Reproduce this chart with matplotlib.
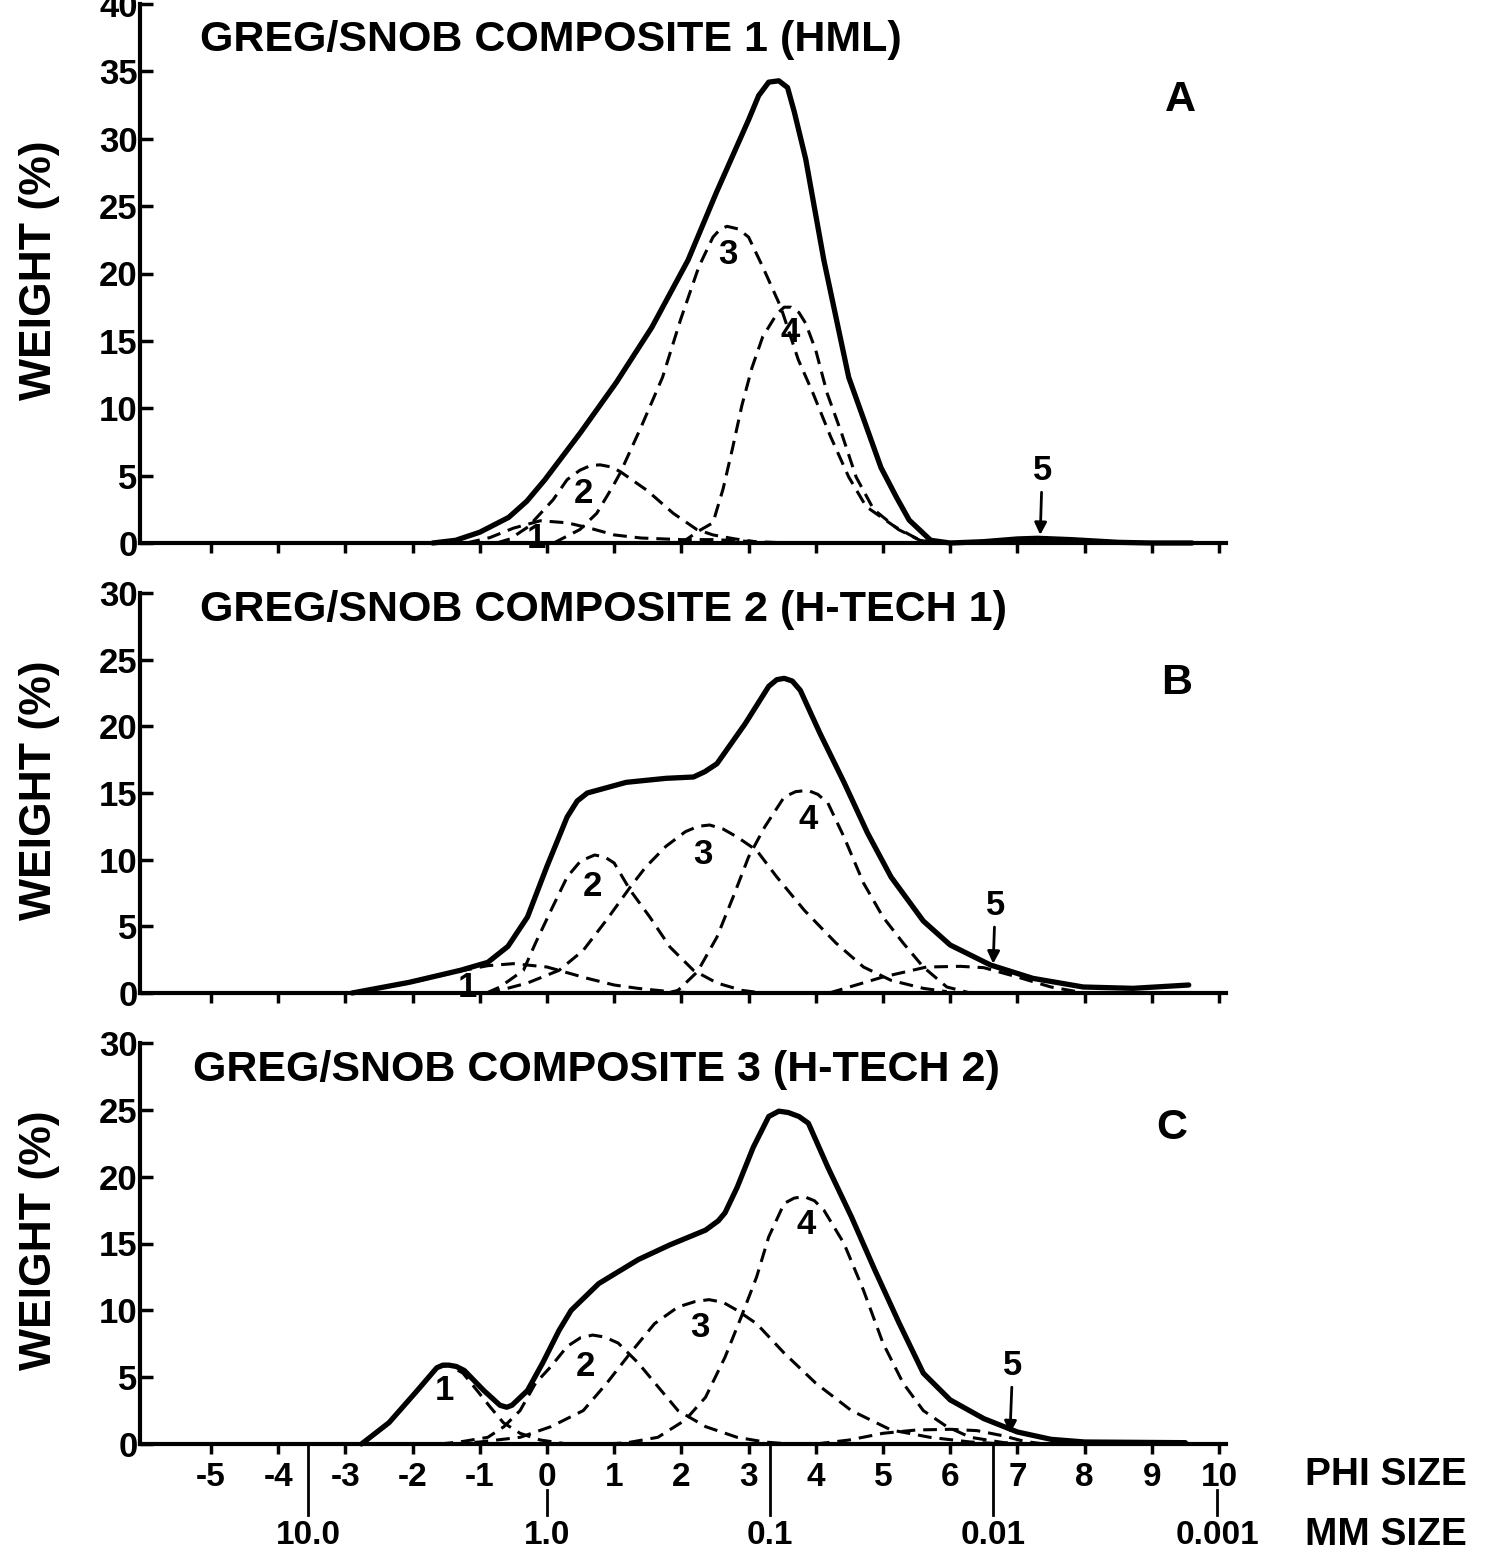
import matplotlib.pyplot as plt
from matplotlib import transforms

plt.rcParams['font.family'] = ['Liberation Sans', 'DejaVu Sans']
plt.rcParams['font.weight'] = 'bold'

# ---- panel A : composite 1 (HML) ----
a_tot_x = [-1.7, -1.36, -1.0, -0.57, -0.3, -0.03, 0.5, 1.03, 1.56, 2.1, 2.52, 3.0, 3.15, 3.3, 3.45,
           3.58, 3.68, 3.85, 4.12, 4.49, 4.97, 5.2, 5.39, 5.71, 6.0, 6.5, 7.0, 7.3, 7.8, 8.5, 9.0, 9.6]
a_tot_y = [0, 0.2, 0.8, 1.9, 3.1, 4.7, 8.2, 11.9, 16.0, 21.0, 26.0, 31.4, 33.2, 34.2, 34.3,
           33.8, 32.0, 28.5, 21.0, 12.3, 5.6, 3.4, 1.7, 0.2, 0, 0.1, 0.3, 0.35, 0.25, 0.05, 0, 0]
a_c1_x = [-1.2, -0.85, -0.5, -0.1, 0.3, 0.64, 1.0, 1.4, 2.0, 2.5, 3.0, 3.6]
a_c1_y = [0, 0.4, 1.1, 1.65, 1.5, 1.1, 0.6, 0.37, 0.25, 0.25, 0.12, 0]
a_c2_x = [-0.75, -0.55, -0.28, 0.09, 0.3, 0.49, 0.65, 0.79, 0.95, 1.09, 1.49, 1.88, 2.23, 2.47, 2.8, 3.1]
a_c2_y = [0, 0.3, 1.2, 3.2, 4.7, 5.4, 5.75, 5.8, 5.65, 5.3, 3.9, 2.2, 1.0, 0.6, 0.3, 0.1]
a_c3_x = [0.1, 0.49, 0.74, 0.98, 1.09, 1.4, 1.72, 1.99, 2.26, 2.47, 2.58, 2.68, 2.85, 3.0, 3.21, 3.48,
          3.74, 3.96, 4.22, 4.49, 4.75, 5.18, 5.55, 5.9]
a_c3_y = [0, 1.0, 2.2, 4.2, 5.2, 8.6, 12.3, 16.6, 20.5, 22.7, 23.3, 23.5, 23.3, 22.7, 20.5, 17.5,
          13.6, 11.1, 7.9, 4.9, 2.7, 1.2, 0.2, 0]
a_c4_x = [2.0, 2.26, 2.47, 2.62, 2.76, 2.9, 3.05, 3.21, 3.42, 3.53, 3.63, 3.75, 3.85, 4.0, 4.17,
          4.38, 4.6, 4.86, 5.23, 5.55, 5.8]
a_c4_y = [0, 0.9, 1.5, 4.0, 7.0, 10.2, 13.0, 15.3, 17.0, 17.5, 17.5, 17.1, 16.3, 14.3, 11.1,
          8.2, 4.9, 2.5, 1.0, 0.2, 0]

# ---- panel B : composite 2 (H-TECH 1) ----
b_tot_x = [-2.9, -2.05, -1.29, -0.88, -0.58, -0.29, 0.0, 0.3, 0.45, 0.6, 1.18, 1.77, 2.18, 2.35,
           2.53, 2.95, 3.3, 3.42, 3.53, 3.65, 3.77, 4.06, 4.42, 4.77, 5.12, 5.6, 6.0, 6.6, 7.23,
           7.98, 8.72, 9.55]
b_tot_y = [0, 0.8, 1.7, 2.3, 3.5, 5.7, 9.5, 13.2, 14.4, 15.0, 15.8, 16.1, 16.2, 16.6,
           17.2, 20.2, 23.0, 23.5, 23.6, 23.4, 22.7, 19.5, 15.8, 12.0, 8.7, 5.4, 3.6, 2.1, 1.1,
           0.45, 0.35, 0.6]
b_c1_x = [-2.9, -2.05, -1.29, -0.88, -0.5, 0.0, 0.6, 1.0, 1.35, 1.83, 2.2]
b_c1_y = [0, 0.75, 1.65, 2.05, 2.2, 1.95, 1.1, 0.6, 0.35, 0.1, 0]
b_c2_x = [-0.9, -0.7, -0.35, -0.17, 0.06, 0.3, 0.5, 0.71, 0.86, 1.0, 1.24, 1.53, 1.83, 2.18,
          2.53, 2.9, 3.2]
b_c2_y = [0, 0.45, 1.7, 3.75, 6.2, 8.7, 9.9, 10.35, 10.2, 9.75, 7.7, 5.7, 3.45, 1.7,
          0.75, 0.2, 0]
b_c3_x = [-0.9, -0.7, -0.29, 0.18, 0.54, 0.89, 1.24, 1.47, 1.77, 2.06, 2.25, 2.42, 2.62, 2.83,
          3.12, 3.42, 3.83, 4.3, 4.71, 5.12, 5.6, 5.95]
b_c3_y = [0, 0.2, 0.75, 1.7, 3.2, 5.5, 7.95, 9.45, 11.0, 12.1, 12.5, 12.6, 12.3, 11.7,
          10.7, 8.7, 6.2, 3.75, 1.95, 0.95, 0.35, 0.1]
b_c4_x = [1.8, 1.95, 2.24, 2.53, 2.77, 3.0, 3.24, 3.53, 3.7, 3.88, 4.03, 4.18, 4.42, 4.71, 5.0,
          5.3, 5.6, 5.95, 6.3]
b_c4_y = [0, 0.2, 1.6, 4.2, 7.2, 10.2, 12.45, 14.7, 15.1, 15.2, 14.9, 14.25, 11.7, 8.25, 5.7,
          3.75, 1.95, 0.45, 0]
b_c5_x = [4.2, 4.5, 5.0, 5.65, 6.15, 6.5, 7.0, 7.5, 8.0]
b_c5_y = [0, 0.45, 1.2, 1.95, 2.0, 1.9, 1.2, 0.45, 0]

# ---- panel C : composite 3 (H-TECH 2) ----
c_tot_x = [-2.76, -2.35, -1.93, -1.64, -1.55, -1.46, -1.35, -1.23, -0.94, -0.7, -0.6, -0.52, -0.29,
           -0.06, 0.18, 0.36, 0.77, 1.36, 1.83, 2.36, 2.55, 2.65, 2.83, 3.07, 3.3, 3.45, 3.59, 3.75,
           3.89, 4.18, 4.53, 4.88, 5.24, 5.6, 6.0, 6.5, 7.0, 7.5, 8.0, 9.5]
c_tot_y = [0, 1.6, 4.0, 5.7, 5.9, 5.9, 5.8, 5.5, 4.0, 2.9, 2.75, 2.9, 4.0,
           6.1, 8.5, 10.0, 12.0, 13.8, 14.9, 16.0, 16.7, 17.3, 19.2, 22.2, 24.5, 24.9, 24.8, 24.5,
           24.0, 20.7, 17.0, 13.0, 9.05, 5.3, 3.3, 1.9, 0.9, 0.35, 0.15, 0.1]
c_c1_x = [-2.76, -2.35, -1.93, -1.64, -1.46, -1.25, -1.04, -0.85, -0.65, -0.4, -0.1, 0.3]
c_c1_y = [0, 1.6, 4.0, 5.7, 5.9, 5.3, 4.0, 2.8, 1.6, 0.8, 0.3, 0]
c_c2_x = [-1.6, -1.3, -0.88, -0.64, -0.4, -0.17, 0.06, 0.3, 0.5, 0.68, 0.86, 1.06, 1.36, 1.65,
          1.95, 2.36, 2.83, 3.24, 3.6]
c_c2_y = [0, 0.15, 0.5, 1.3, 2.5, 4.55, 5.8, 7.3, 7.95, 8.15, 8.0, 7.55, 6.05, 4.3,
          2.5, 1.3, 0.5, 0.15, 0]
c_c3_x = [-1.4, -1.0, -0.4, 0.06, 0.54, 0.89, 1.24, 1.6, 1.95, 2.2, 2.41, 2.62, 2.83, 3.12, 3.53,
          4.0, 4.53, 5.12, 5.7, 6.3, 6.8]
c_c3_y = [0, 0.15, 0.5, 1.3, 2.5, 4.55, 6.8, 9.0, 10.25, 10.65, 10.8, 10.6, 10.0, 9.0, 6.8,
          4.55, 2.5, 1.05, 0.5, 0.15, 0]
c_c4_x = [0.9, 1.2, 1.65, 2.06, 2.36, 2.65, 2.89, 3.12, 3.3, 3.53, 3.68, 3.83, 3.98, 4.12, 4.42,
          4.71, 5.0, 5.3, 5.6, 5.95, 6.3, 6.8, 7.2]
c_c4_y = [0, 0.1, 0.5, 1.8, 3.5, 6.5, 9.5, 12.5, 15.5, 18.0, 18.4, 18.5, 18.2, 17.5, 15.0,
          11.5, 7.55, 4.55, 2.5, 1.3, 0.5, 0.1, 0]
c_c5_x = [4.0, 4.5, 5.0, 5.5, 6.0, 6.4, 6.8, 7.1, 7.4]
c_c5_y = [0, 0.3, 0.8, 1.05, 1.1, 1.0, 0.6, 0.2, 0]

# axis labels
phi_ticks = list(range(-5, 11))
mm_labels = ['10.0', '1.0', '0.1', '0.01', '0.001']
mm_phi = [-3.55, 0.0, 3.32, 6.64, 9.97]

W, H = 1492, 1559
fig = plt.figure(figsize=(W / 100, H / 100), dpi=100)

X0, X1 = -6.05, 10.1
left = 140.4 / W
width = (1225.7 - 140.4) / W


def make_axes(top_px, bottom_px, ymax):
    ax = fig.add_axes([left, 1 - bottom_px / H, width, (bottom_px - top_px) / H])
    ax.set_xlim(X0, X1)
    ax.set_ylim(0, ymax)
    ax.spines['right'].set_visible(False)
    ax.spines['top'].set_visible(False)
    for s in ('left', 'bottom'):
        ax.spines[s].set_linewidth(3)
    ax.set_xticks(phi_ticks)
    ax.set_yticks(range(0, ymax + 1, 5))
    ax.tick_params(axis='x', direction='out', length=7, width=2.5, labelbottom=False)
    ax.tick_params(axis='y', direction='in', length=9, width=2.5, pad=2, labelsize=25)
    ax.patch.set_alpha(0)
    return ax


def draw(ax, tot, comps):
    dash = (0, (4.5, 2.6))
    for cx, cy in comps:
        ax.plot(cx, cy, color='black', lw=2.2, linestyle=dash, clip_on=False)
    ax.plot(tot[0], tot[1], color='black', lw=3.8, solid_joinstyle='round',
            solid_capstyle='round', clip_on=False)


def label(ax, items):
    for t, x, y in items:
        ax.text(x, y, t, ha='center', va='center', fontsize=25, fontweight='bold')


def arrow5(ax, tip, txt):
    ax.annotate('5', xy=tip, xytext=txt, ha='center', va='center',
                fontsize=25, fontweight='bold',
                arrowprops=dict(arrowstyle='-|>', lw=2, color='black', mutation_scale=18,
                                shrinkA=2, shrinkB=0))


ax_a = make_axes(4, 543, 40)
draw(ax_a, (a_tot_x, a_tot_y),
     [(a_c1_x, a_c1_y), (a_c2_x, a_c2_y), (a_c3_x, a_c3_y), (a_c4_x, a_c4_y)])
label(ax_a, [('1', -0.15, 0.3), ('2', 0.54, 3.7), ('3', 2.69, 21.4), ('4', 3.62, 15.6)])
arrow5(ax_a, (7.34, 0.6), (7.37, 5.4))

ax_b = make_axes(593, 993, 30)
draw(ax_b, (b_tot_x, b_tot_y),
     [(b_c1_x, b_c1_y), (b_c2_x, b_c2_y), (b_c3_x, b_c3_y), (b_c4_x, b_c4_y), (b_c5_x, b_c5_y)])
label(ax_b, [('1', -1.18, 0.4), ('2', 0.68, 8.0), ('3', 2.32, 10.4), ('4', 3.88, 13.0)])
arrow5(ax_b, (6.64, 2.2), (6.67, 6.6))

ax_c = make_axes(1043, 1444, 30)
draw(ax_c, (c_tot_x, c_tot_y),
     [(c_c1_x, c_c1_y), (c_c2_x, c_c2_y), (c_c3_x, c_c3_y), (c_c4_x, c_c4_y), (c_c5_x, c_c5_y)])
label(ax_c, [('1', -1.52, 4.0), ('2', 0.57, 5.8), ('3', 2.28, 8.75), ('4', 3.85, 16.4)])
arrow5(ax_c, (6.89, 0.8), (6.93, 5.9))
ax_c.tick_params(axis='x', labelbottom=True, labelsize=24, pad=6)
ax_c.set_xticklabels([str(t) for t in phi_ticks])

# mm scale under the phi scale
trans = transforms.blended_transform_factory(ax_c.transData, ax_c.transAxes)
ph = 1444 - 1043
for lab, p in zip(mm_labels, mm_phi):
    top = 0 if lab in ('10.0', '0.1', '0.01') else -(1490 - 1444) / ph
    ax_c.plot([p, p], [top, -(1515 - 1444) / ph], color='black', lw=2,
              transform=trans, clip_on=False)
    ax_c.text(p, -(1535 - 1444) / ph, lab, transform=trans, ha='center', va='center',
              fontsize=24, fontweight='bold')

fig.text(1305 / W, 1 - 1475 / H, 'PHI SIZE', ha='left', va='center', fontsize=28)
fig.text(1305 / W, 1 - 1535 / H, 'MM SIZE', ha='left', va='center', fontsize=28)

# titles, panel letters, y labels
titles = ['GREG/SNOB COMPOSITE 1 (HML)', 'GREG/SNOB COMPOSITE 2 (H-TECH 1)',
          'GREG/SNOB COMPOSITE 3 (H-TECH 2)']
for t, (x, y) in zip(titles, [(200, 40), (200, 610), (193, 1070)]):
    fig.text(x / W, 1 - y / H, t, ha='left', va='center', fontsize=31)
for t, (x, y) in zip(['A', 'B', 'C'], [(1180, 100), (1177, 683), (1172, 1128)]):
    fig.text(x / W, 1 - y / H, t, ha='center', va='center', fontsize=31)
for y in [270, 790, 1240]:
    fig.text(40 / W, 1 - y / H, 'WEIGHT (%)', rotation=90, ha='center', va='center', fontsize=32)

fig.savefig('out.png', dpi=100, facecolor='white')
